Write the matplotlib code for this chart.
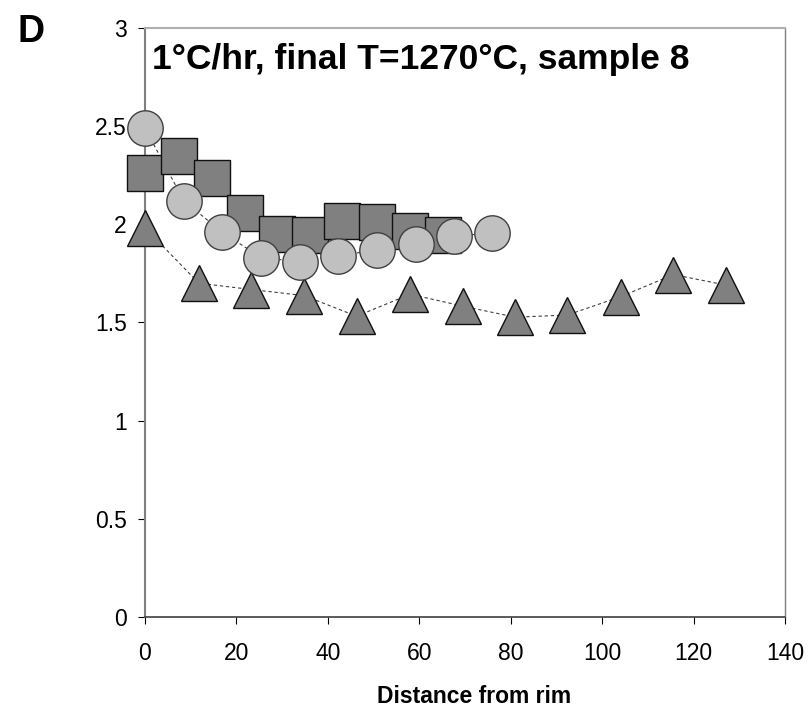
import matplotlib.pyplot as plt

plt.rcParams["font.family"] = ["Liberation Sans", "DejaVu Sans"]

# Values
circle_x = [0, 8.5, 16.9, 25.4, 33.9, 42.3, 50.8, 59.2, 67.5, 75.9]
circle_y = [2.49, 2.12, 1.96, 1.83, 1.81, 1.84, 1.87, 1.90, 1.94, 1.955]

square_x = [0, 7.4, 14.7, 21.8, 28.9, 36.2, 43.2, 50.8, 57.9, 65.3]
square_y = [2.26, 2.35, 2.235, 2.06, 1.95, 1.945, 2.015, 2.01, 1.965, 1.945]

triangle_x = [0.1, 11.8, 23.3, 34.8, 46.3, 58.0, 69.6, 81.0, 92.4, 104.1, 115.6, 127.0]
triangle_y = [1.98, 1.70, 1.668, 1.637, 1.532, 1.644, 1.583, 1.527, 1.538, 1.632, 1.744, 1.691]

x_ticks = [0, 20, 40, 60, 80, 100, 120, 140]
y_ticks = [0, 0.5, 1, 1.5, 2, 2.5, 3]
y_tick_labels = ["0", "0.5", "1", "1.5", "2", "2.5", "3"]

fig = plt.figure(figsize=(8.09, 7.07), dpi=100)
ax = fig.add_axes([0.1792, 0.1273, 0.7911, 0.8331])

# triangles with dashed connecting line
ax.plot(triangle_x, triangle_y, linestyle=(0, (3, 2.5)), color="#404040", linewidth=0.8,
        zorder=3, clip_on=False)
ax.plot(triangle_x, triangle_y, linestyle="none", marker="^", markersize=26.5,
        markerfacecolor="#808080", markeredgecolor="#101010", markeredgewidth=1.0,
        zorder=4, clip_on=False)

# squares
ax.plot(square_x, square_y, linestyle="none", marker="s", markersize=26,
        markerfacecolor="#808080", markeredgecolor="#101010", markeredgewidth=1.0,
        zorder=5, clip_on=False)

# circles with dashed connecting line
ax.plot(circle_x, circle_y, linestyle=(0, (3, 2.5)), color="#404040", linewidth=0.8,
        zorder=4.5, clip_on=False)
ax.plot(circle_x, circle_y, linestyle="none", marker="o", markersize=25.5,
        markerfacecolor="#c0c0c0", markeredgecolor="#404040", markeredgewidth=1.0,
        zorder=6, clip_on=False)

ax.set_xlim(0, 140)
ax.set_ylim(0, 3)
ax.set_xticks(x_ticks)
ax.set_yticks(y_ticks)
ax.set_yticklabels(y_tick_labels)

ax.spines["left"].set_color("#808080")
ax.spines["left"].set_linewidth(1.5)
ax.spines["bottom"].set_color("#404040")
ax.spines["bottom"].set_linewidth(1.2)
ax.spines["top"].set_color("#b0b0b0")
ax.spines["top"].set_linewidth(1.5)
ax.spines["right"].set_color("#808080")
ax.spines["right"].set_linewidth(1.0)
for s in ax.spines.values():
    s.set_zorder(2)

ax.tick_params(axis="x", direction="out", length=5, width=0.8, color="black",
               labelsize=16.5, pad=13)
ax.tick_params(axis="y", direction="out", length=5, width=0.8, color="black",
               labelsize=16.5, pad=8)

ax.set_xlabel("Distance from rim", fontsize=16.5, fontweight="bold")
ax.xaxis.set_label_coords(0.514, -0.1155)

ax.text(0.011, 0.9745, "1°C/hr, final T=1270°C, sample 8", transform=ax.transAxes,
        fontsize=25.5, fontweight="bold", ha="left", va="top", zorder=7)

fig.text(0.022, 0.98, "D", fontsize=27, fontweight="bold", ha="left", va="top")

fig.savefig("out.png", dpi=100)
